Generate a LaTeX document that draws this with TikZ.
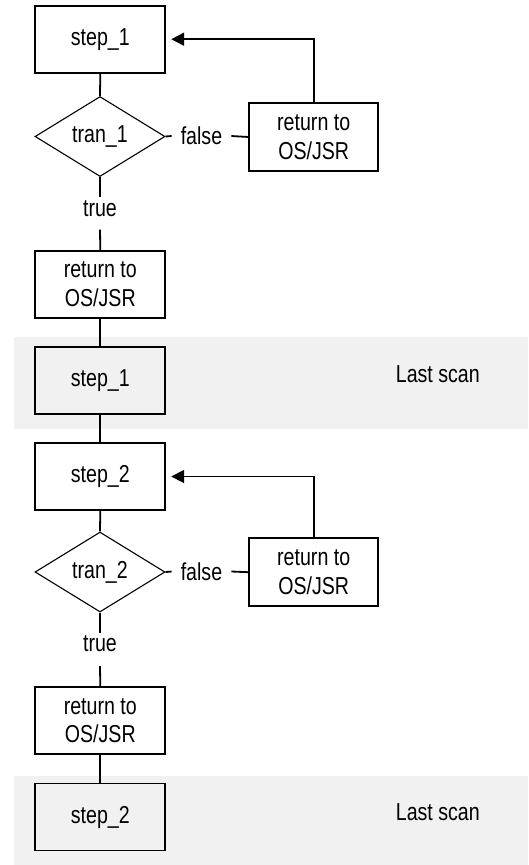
\documentclass[tikz,border=0pt]{standalone}
\usepackage{fontspec}
\setmainfont[FakeStretch=0.8]{Liberation Sans}
\usetikzlibrary{shapes.geometric,arrows.meta,calc}
\definecolor{band}{RGB}{241,241,241}
\begin{document}
\begin{tikzpicture}[x=1pt,y=-1pt,
  font=\fontsize{24.5}{28.5}\selectfont,
  box/.style={draw, line width=1.8pt, minimum width=130pt, minimum height=67pt, inner sep=0pt, align=center},
  dec/.style={draw, diamond, line width=1.1pt, minimum width=130pt, minimum height=80pt, inner sep=0pt},
  conn/.style={line width=1.8pt},
  loop/.style={conn, -{Triangle[length=13pt,width=13pt]}, shorten >=5pt},
  lbl/.style={inner sep=0pt}]
\useasboundingbox (0,0) rectangle (528,865);
% shaded bands
\fill[band] (13.7,337.3) rectangle (528,428.7);
\fill[band] (13.7,776) rectangle (528,865);
% first block
\node[box] (s1) at (100.3,39.2) {step\_1};
\node[dec] (t1) at (100,136.5) {tran\_1};
\node[box, minimum width=128.7pt, minimum height=68pt] (r1) at (313.7,137) {return to\\OS/JSR};
\node[lbl] (f1) at (201.5,136) {false};
\node[lbl] (tr1) at (100,208.3) {true};
\node[box] (r2) at (100.3,284.2) {return to\\OS/JSR};
\node[box, fill=band] (s1b) at (100.3,380.3) {step\_1};
\node[lbl, anchor=base] (ls1) at (437.8,382.3) {Last scan};
\draw[conn] (s1.south) -- (t1.north);
\draw[conn] (t1.east) -- ($(f1.west)+(-9,0)$);
\draw[conn] ($(f1.east)+(9,0)$) -- (r1.west);
\draw[loop] (r1.north) |- (s1.east);
\draw[conn] (t1.south) -- ($(tr1.north)+(0,-3)$);
\draw[conn] ($(tr1.south)+(0,13)$) -- (r2.north);
\draw[conn] (r2.south) -- (s1b.north);
% second block
\node[box] (s2) at (100.3,476.5) {step\_2};
\node[dec] (t2) at (100,572) {tran\_2};
\node[box, minimum width=128.7pt, minimum height=68pt] (r3) at (313.7,572.2) {return to\\OS/JSR};
\node[lbl] (f2) at (201.5,571.5) {false};
\node[lbl] (tr2) at (100,643.8) {true};
\node[box] (r4) at (100.3,720.8) {return to\\OS/JSR};
\node[box, fill=band] (s2b) at (100.3,817) {step\_2};
\node[lbl, anchor=base] (ls2) at (437.8,820) {Last scan};
\draw[conn] (s1b.south) -- (s2.north);
\draw[conn] (s2.south) -- (t2.north);
\draw[conn] (t2.east) -- ($(f2.west)+(-9,0)$);
\draw[conn] ($(f2.east)+(9,0)$) -- (r3.west);
\draw[loop] (r3.north) |- (s2.east);
\draw[conn] (t2.south) -- ($(tr2.north)+(0,-3)$);
\draw[conn] ($(tr2.south)+(0,14)$) -- (r4.north);
\draw[conn] (r4.south) -- (s2b.north);
\end{tikzpicture}
\end{document}
